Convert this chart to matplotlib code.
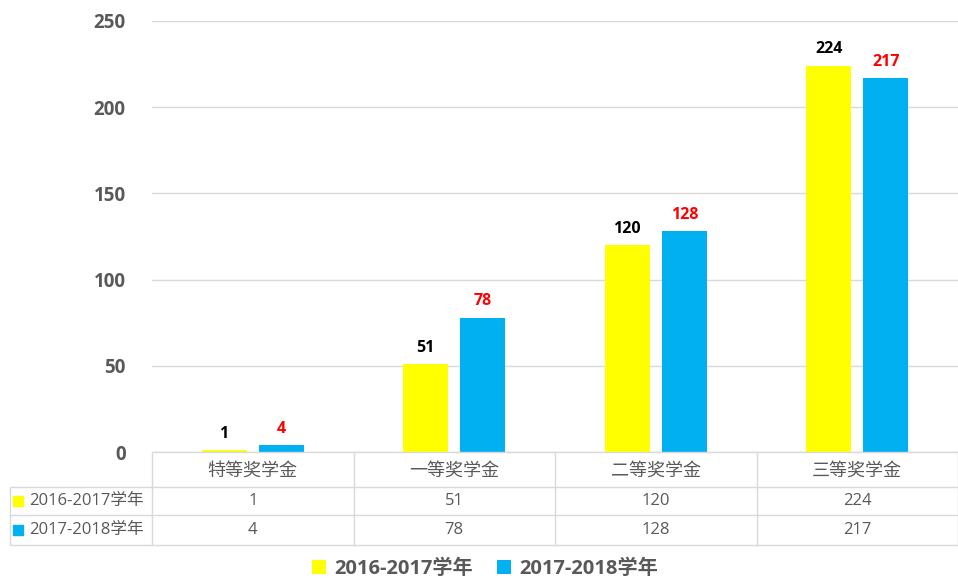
import matplotlib
matplotlib.use("Agg")
import matplotlib.pyplot as plt
from matplotlib.patches import Patch

categories = ["特等奖学金", "一等奖学金", "二等奖学金", "三等奖学金"]
series_names = ["2016-2017学年", "2017-2018学年"]
values_2016 = [1, 51, 120, 224]
values_2017 = [4, 78, 128, 217]
yticks = [0, 50, 100, 150, 200, 250]

YELLOW = "#FFFF00"
BLUE = "#00B0F0"
GRAY = "#595959"
GRID = "#D9D9D9"
FONTS = ["Open Sans", "Noto Sans CJK SC", "DejaVu Sans"]
CJK = ["Noto Sans CJK SC", "DejaVu Sans"]
plt.rcParams["font.family"] = FONTS

W, H = 958, 578
fig = plt.figure(figsize=(W / 100, H / 100), dpi=100)

def px_rect(x0, y0, x1, y1):
    return [x0 / W, 1 - y1 / H, (x1 - x0) / W, (y1 - y0) / H]

# main axes
ax = fig.add_axes(px_rect(152, 21, 958, 452))
ax.set_xlim(-0.5, 3.5)
ax.set_ylim(0, 250)
x = list(range(len(categories)))
bw = 0.223
off = 0.142
ax.bar([i - off for i in x], values_2016, width=bw, color=YELLOW, zorder=3)
ax.bar([i + off for i in x], values_2017, width=bw, color=BLUE, zorder=3)
for xi, v in zip(x, values_2016):
    ax.annotate(str(v), (xi - off, v), xytext=(0, 6), textcoords="offset points",
                ha="center", va="bottom", fontsize=11.5, fontweight="bold", color="black")
for xi, v in zip(x, values_2017):
    ax.annotate(str(v), (xi + off, v), xytext=(0, 6), textcoords="offset points",
                ha="center", va="bottom", fontsize=11.5, fontweight="bold", color="#FF0000")
ax.set_yticks(yticks)
ax.set_yticklabels([str(t) for t in yticks], fontsize=13.5, fontweight="bold", color=GRAY)
ax.tick_params(axis="y", length=0, pad=19)
ax.set_xticks([])
ax.grid(axis="y", color=GRID, linewidth=1, zorder=0)
for s in ax.spines.values():
    s.set_visible(False)

# data table
left_px = 10
unit = (958 - 152) / 4.0
xl = -0.5 - (152 - left_px) / unit
axt = fig.add_axes(px_rect(left_px, 452, 958, 546))
axt.set_xlim(xl, 3.5)
axt.set_ylim(546, 452)
axt.axis("off")
r0, r1, r2, r3 = 452, 487, 515, 545
lk = dict(color=GRID, linewidth=1.0, solid_capstyle="butt", clip_on=False)
axt.plot([-0.5, 3.5], [r0, r0], **lk)
for yy in (r1, r2, r3):
    axt.plot([xl, 3.5], [yy, yy], **lk)
axt.plot([xl, xl], [r1, r3], **lk)
for xv in [-0.5, 0.5, 1.5, 2.5, 3.5]:
    axt.plot([xv, xv], [r0, r3], **lk)
for xi, c in zip(x, categories):
    axt.text(xi, (r0 + r1) / 2 + 1, c, ha="center", va="center", fontsize=13,
             color=GRAY, family=CJK)
for row_y, vals in (((r1 + r2) / 2, values_2016), ((r2 + r3) / 2, values_2017)):
    for xi, v in zip(x, vals):
        axt.text(xi, row_y, str(v), ha="center", va="center", fontsize=12, color=GRAY)
sq_x = xl + 8 / unit
txt_x = xl + 19 / unit
for row_y, col, name in (((r1 + r2) / 2, YELLOW, series_names[0]),
                         ((r2 + r3) / 2, BLUE, series_names[1])):
    axt.plot([sq_x], [row_y], marker="s", markersize=6.5, color=col, clip_on=False)
    axt.text(txt_x, row_y, name, ha="left", va="center", fontsize=12, color=GRAY)

# legend
handles = [Patch(facecolor=YELLOW, edgecolor="none"), Patch(facecolor=BLUE, edgecolor="none")]
leg = fig.legend(handles, series_names, loc="center", bbox_to_anchor=(485 / W, 1 - 569 / H),
                 ncol=2, frameon=False, handlelength=0.7, handleheight=0.7,
                 handletextpad=0.4, columnspacing=1.2,
                 prop={"size": 14.5, "weight": "bold", "family": FONTS})
for t in leg.get_texts():
    t.set_color(GRAY)

fig.savefig("out.png", dpi=100)
